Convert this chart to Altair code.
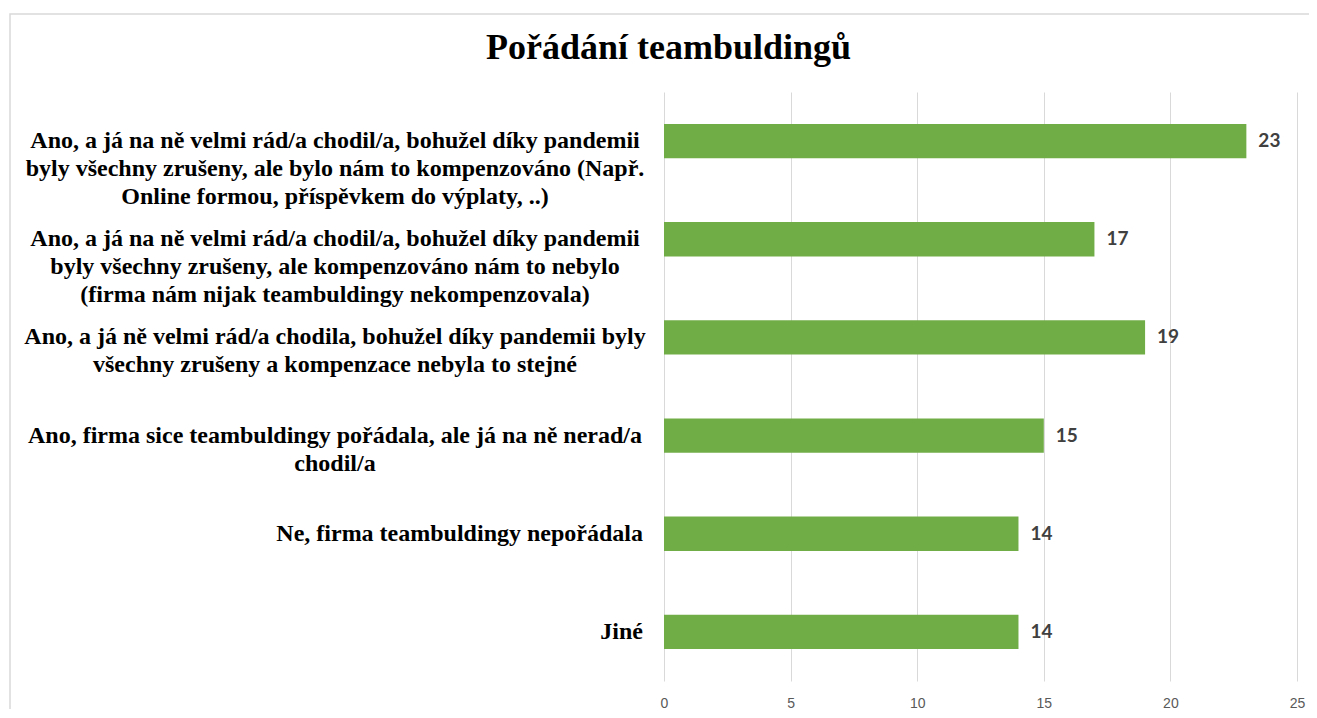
import altair as alt
import pandas as pd

categories = [
    "Ano, a já na ně velmi rád/a chodil/a, bohužel díky pandemii\nbyly všechny zrušeny, ale bylo nám to kompenzováno (Např.\nOnline formou, příspěvkem do výplaty, ..)",
    "Ano, a já na ně velmi rád/a chodil/a, bohužel díky pandemii\nbyly všechny zrušeny, ale kompenzováno nám to nebylo\n(firma nám nijak teambuldingy nekompenzovala)",
    "Ano, a já ně velmi rád/a chodila, bohužel díky pandemii byly\nvšechny zrušeny a kompenzace nebyla to stejné",
    "Ano, firma sice teambuldingy pořádala, ale já na ně nerad/a\nchodil/a",
    "Ne, firma teambuldingy nepořádala",
    "Jiné",
]
values = [23, 17, 19, 15, 14, 14]
title_text = "Pořádání teambuldingů"

df = pd.DataFrame({"cat": categories, "val": values})
df["multi"] = df["cat"].str.contains("\n")

yscale = alt.Scale(domain=categories, paddingInner=0.65, paddingOuter=0.325)
y_enc = alt.Y("cat:N", sort=categories, scale=yscale, axis=None)

base = alt.Chart(df)

bars = base.mark_bar(color="#70AD47").encode(
    x=alt.X(
        "val:Q",
        scale=alt.Scale(domain=[0, 25], nice=False),
        axis=alt.Axis(
            values=[0, 5, 10, 15, 20, 25],
            title=None,
            grid=True,
            gridColor="#D9D9D9",
            gridWidth=1,
            domain=False,
            ticks=False,
            labelFlush=False,
            labelColor="#595959",
            labelFont="Liberation Sans",
            labelFontSize=14,
            labelPadding=15,
        ),
    ),
    y=y_enc,
)

vals = base.mark_text(
    align="left", baseline="middle", dx=12,
    font="Lato", fontWeight="bold", fontSize=19, color="#404040",
).encode(x="val:Q", y=y_enc, text="val:Q")

lab_multi = base.transform_filter("datum.multi").mark_text(
    align="center", baseline="middle", lineBreak="\n", lineHeight=28,
    font="Liberation Serif", fontWeight="bold", fontSize=24, color="#000000",
).encode(x=alt.value(-329), y=y_enc, text="cat:N")

lab_single = base.transform_filter("!datum.multi").mark_text(
    align="right", baseline="middle",
    font="Liberation Serif", fontWeight="bold", fontSize=24, color="#000000",
).encode(x=alt.value(-21), y=y_enc, text="cat:N")

border = alt.Chart(pd.DataFrame({"k": [0]})).mark_rect(
    fill=None, stroke="#D9D9D9", strokeWidth=1.5
).encode(x=alt.value(-654), x2=alt.value(720), y=alt.value(-78), y2=alt.value(720))

chart = alt.layer(border, bars, vals, lab_multi, lab_single).properties(
    width=633,
    height=589,
    title=alt.TitleParams(
        title_text, anchor="middle", frame="group", dx=-312, offset=-54,
        font="Liberation Serif", fontSize=36, fontWeight="bold", color="#000000",
    ),
    autosize=alt.AutoSizeParams(type="none"),
    padding={"left": 656, "top": 84, "right": 12, "bottom": 28},
).configure_view(stroke=None)

chart.save("out.html", embed_options={"renderer": "svg", "actions": False})
